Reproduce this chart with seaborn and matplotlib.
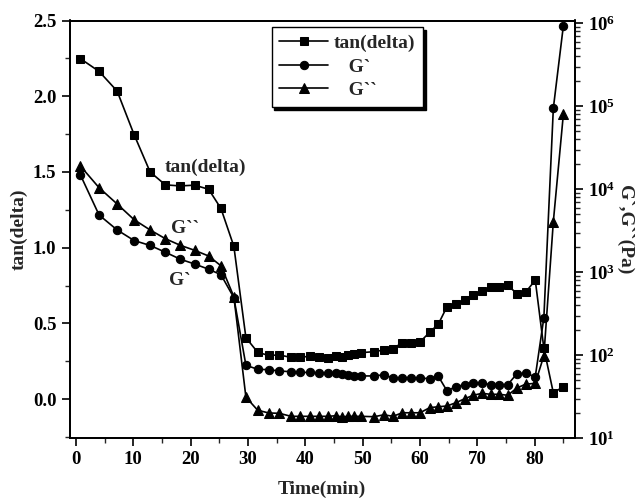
import numpy as np
import pandas as pd
import matplotlib
matplotlib.use("Agg")
import matplotlib.pyplot as plt
import seaborn as sns
from matplotlib.ticker import MultipleLocator, LogLocator, NullFormatter

# ---------------- data ----------------
time_min = [0.8, 4.05, 7.2, 10.15, 12.95, 15.6, 18.2, 20.7, 23.15, 25.3, 27.55,
            29.65, 31.7, 33.6, 35.5, 37.5, 39.15, 40.85, 42.4, 44.05, 45.3, 46.4,
            47.4, 48.5, 49.7, 52.0, 53.7, 55.3, 56.9, 58.45, 60.0, 61.7, 63.2,
            64.7, 66.3, 67.8, 69.3, 70.8, 72.3, 73.8, 75.3, 76.9, 78.4, 80.1,
            81.6, 83.25, 85.0]

tan_delta = [2.248, 2.164, 2.034, 1.747, 1.500, 1.415, 1.408, 1.413, 1.386, 1.259, 1.009,
             0.406, 0.310, 0.289, 0.292, 0.276, 0.279, 0.282, 0.281, 0.274, 0.285, 0.277,
             0.294, 0.301, 0.307, 0.314, 0.325, 0.334, 0.373, 0.373, 0.378, 0.442, 0.496,
             0.610, 0.626, 0.653, 0.688, 0.716, 0.738, 0.742, 0.753, 0.696, 0.705, 0.786,
             0.336, 0.042, 0.083]

g_storage = [14860, 4900, 3236, 2415, 2104, 1746, 1438, 1259, 1089, 935, 494,
             75.9, 67.8, 67.1, 64.7, 63.4, 62.3, 62.1, 61.2, 61.2, 61.2, 60.0,
             57.9, 56.4, 56.4, 56.4, 58.3, 53.3, 53.7, 53.7, 53.3, 52.2, 55.8,
             37.4, 41.9, 44.3, 46.4, 46.4, 44.3, 44.3, 44.3, 60.0, 60.7, 55.2,
             284, 94600, 933000]

g_loss = [19050, 10440, 6650, 4305, 3236, 2541, 2115, 1841, 1571, 1197, 508,
          31.3, 21.8, 20.2, 20.0, 18.4, 18.4, 18.4, 18.4, 18.4, 18.7, 18.1,
          18.4, 18.4, 18.4, 18.2, 19.2, 18.4, 20.3, 20.3, 20.3, 23.4, 24.0,
          24.5, 26.9, 30.0, 33.0, 34.8, 33.9, 33.9, 33.0, 40.4, 44.8, 46.0,
          98.9, 4074, 80200]

series_labels = ["tan(delta)", "   G`", "   G``"]
x_label = "Time(min)"
left_label = "tan(delta)"
right_label = "G`,G``(Pa)"
right_ticks = [1e1, 1e2, 1e3, 1e4, 1e5, 1e6]
right_ticklabels = ["$10^{1}$", "$10^{2}$", "$10^{3}$", "$10^{4}$", "$10^{5}$", "$10^{6}$"]
annotations = [("tan(delta)", 22.55, 1.53), ("G``", 19.0, 1.125), ("G`", 18.1, 0.785)]

df = pd.DataFrame({"time": time_min, "tan": tan_delta, "gs": g_storage, "gl": g_loss})

# ---------------- style ----------------
sns.set_style("ticks")
plt.rcParams["font.family"] = ["Liberation Serif", "DejaVu Serif"]
plt.rcParams["font.weight"] = "bold"
plt.rcParams["axes.labelweight"] = "bold"
plt.rcParams["mathtext.fontset"] = "custom"
plt.rcParams["mathtext.rm"] = "Liberation Serif:bold"
plt.rcParams["mathtext.default"] = "rm"

fig = plt.figure(figsize=(6.38, 5.0), dpi=100)
ax = fig.add_axes([0.109, 0.1234, 0.792, 0.8356])
ax2 = ax.twinx()

lw = 1.2
ms = 6
sns.lineplot(data=df, x="time", y="tan", ax=ax, color="black", marker="s",
             markersize=ms, markeredgecolor="black", linewidth=lw, estimator=None,
             sort=False, label=series_labels[0], legend=False)
sns.lineplot(data=df, x="time", y="gs", ax=ax2, color="black", marker="o",
             markersize=ms, markeredgecolor="black", linewidth=lw, estimator=None,
             sort=False, label=series_labels[1], legend=False)
sns.lineplot(data=df, x="time", y="gl", ax=ax2, color="black", marker="^",
             markersize=ms + 1, markeredgecolor="black", linewidth=lw, estimator=None,
             sort=False, label=series_labels[2], legend=False)

# left axis
ax.set_xlim(-1.1, 87.0)
ax.set_ylim(-0.258, 2.5)
ax.xaxis.set_major_locator(MultipleLocator(10))
ax.xaxis.set_minor_locator(MultipleLocator(5))
ax.yaxis.set_major_locator(MultipleLocator(0.5))
ax.yaxis.set_minor_locator(MultipleLocator(0.25))
ax.set_xlabel(x_label, fontsize=14, fontweight="bold", labelpad=9)
ax.set_ylabel(left_label, fontsize=14, fontweight="bold", labelpad=4)
ax.tick_params(axis="both", which="major", direction="out", length=6, width=1.2,
               labelsize=13.5, colors="black")
ax.tick_params(axis="both", which="minor", direction="out", length=3.5, width=1.0)
ax.tick_params(axis="y", which="both", right=False)
ax.tick_params(axis="x", which="both", top=False)
for lbl in ax.get_xticklabels() + ax.get_yticklabels():
    lbl.set_fontweight("bold")

# right axis
ax2.set_yscale("log")
ax2.set_ylim(10, 1.08e6)
ax2.set_yticks(right_ticks)
ax2.set_yticklabels(right_ticklabels)
ax2.yaxis.set_minor_locator(LogLocator(base=10, subs=np.arange(2, 10), numticks=20))
ax2.yaxis.set_minor_formatter(NullFormatter())
ax2.set_ylabel(right_label, fontsize=14, fontweight="bold", rotation=270, labelpad=13)
ax2.tick_params(axis="y", which="major", direction="out", length=6, width=1.2,
                labelsize=13.5, colors="black")
ax2.tick_params(axis="y", which="minor", direction="out", length=3.5, width=1.0)

for a in (ax, ax2):
    for s in a.spines.values():
        s.set_visible(True)
        s.set_linewidth(1.3)
        s.set_color("black")

# annotations
for txt, xx, yy in annotations:
    ax.text(xx, yy, txt, fontsize=14, fontweight="bold", ha="center", va="center")

# legend
h1, l1 = ax.get_legend_handles_labels()
h2, l2 = ax2.get_legend_handles_labels()
leg = ax2.legend(h1 + h2, l1 + l2, loc="upper left", bbox_to_anchor=(0.40, 0.985),
                 borderaxespad=0, frameon=True, fancybox=False,
                 shadow={"color": "black", "alpha": 1.0},
                 handlelength=2.5, handletextpad=0.3, labelspacing=0.3,
                 borderpad=0.4, prop={"weight": "bold", "size": 14})
leg.get_frame().set_edgecolor("black")
leg.get_frame().set_linewidth(1.0)

fig.savefig("out.png", dpi=100)
